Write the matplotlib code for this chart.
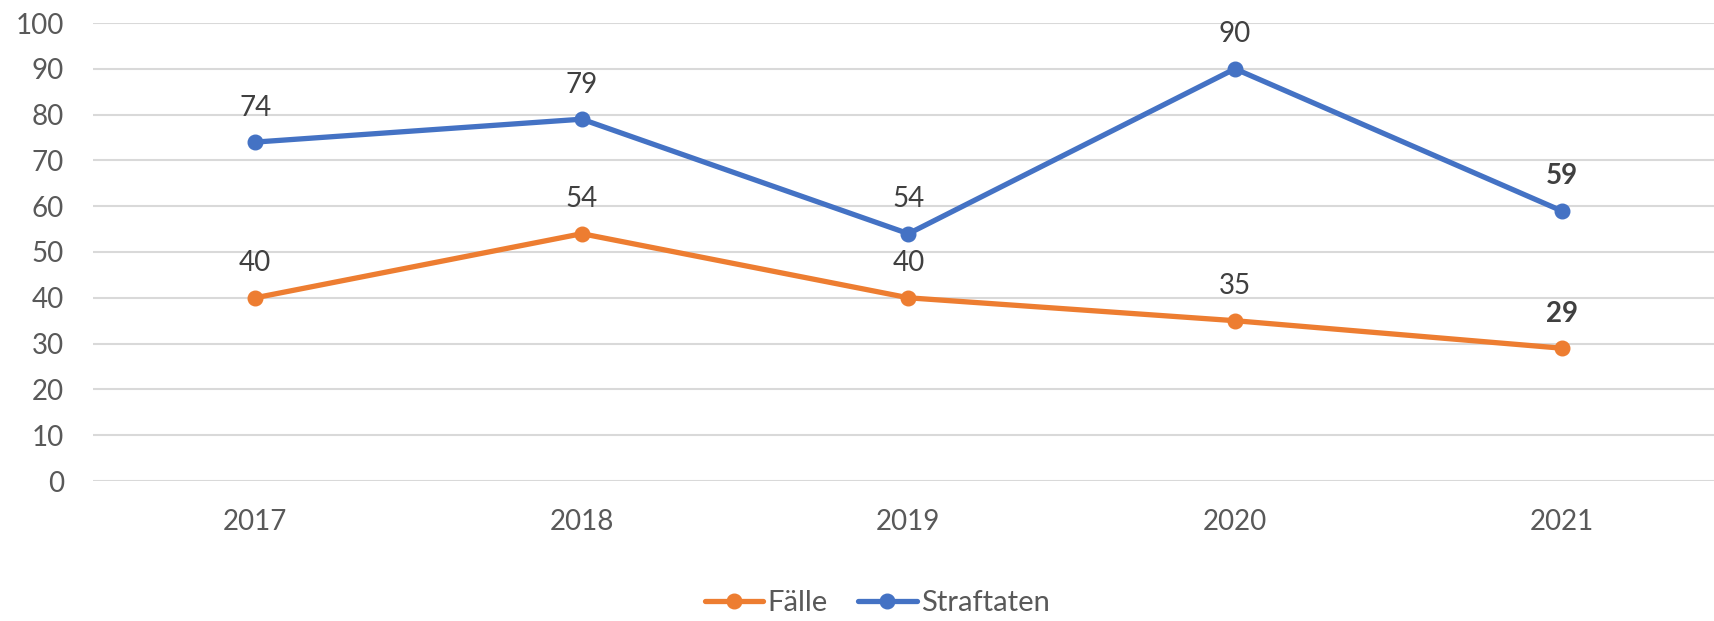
import matplotlib.pyplot as plt

# Daten
jahre = ['2017', '2018', '2019', '2020', '2021']
faelle = [40, 54, 40, 35, 29]
straftaten = [74, 79, 54, 90, 59]

plt.rcParams['font.family'] = ['Lato', 'DejaVu Sans']

fig = plt.figure(figsize=(17.15, 6.21), dpi=100)
ax = fig.add_axes([93 / 1715, 1 - 481 / 621, 1 - 93 / 1715, (481 - 23) / 621])

x = range(len(jahre))
ax.plot(x, faelle, color='#ED7D31', lw=3.8, marker='o', ms=10.5, label='Fälle',
        solid_capstyle='round', zorder=3)
ax.plot(x, straftaten, color='#4472C4', lw=3.8, marker='o', ms=10.5, label='Straftaten',
        solid_capstyle='round', zorder=3)

# Datenbeschriftungen
for serie in (faelle, straftaten):
    for i, v in enumerate(serie):
        ax.annotate(str(v), (i, v), xytext=(0, 19), textcoords='offset points',
                    ha='center', va='baseline', fontsize=20, color='#404040',
                    fontweight='bold' if i == len(serie) - 1 else 'normal')

ax.set_ylim(0, 100)
ax.set_yticks(range(0, 101, 10))
ax.set_xlim(-0.497, 4.47)
ax.set_xticks(list(x))
ax.set_xticklabels(jahre)
ax.tick_params(axis='both', length=0, labelsize=20, labelcolor='#595959')
ax.tick_params(axis='y', pad=21)
ax.tick_params(axis='x', pad=20)
ax.grid(axis='y', color='#D9D9D9', lw=1.5)
ax.set_axisbelow(True)
for s in ax.spines.values():
    s.set_visible(False)

fig.legend(loc='center', bbox_to_anchor=(0.5115, 1 - 603 / 621), ncol=2, frameon=False,
           fontsize=21, labelcolor='#595959', handlelength=2.0, handletextpad=0.15,
           columnspacing=1.05)

fig.savefig('out.png', dpi=100)
